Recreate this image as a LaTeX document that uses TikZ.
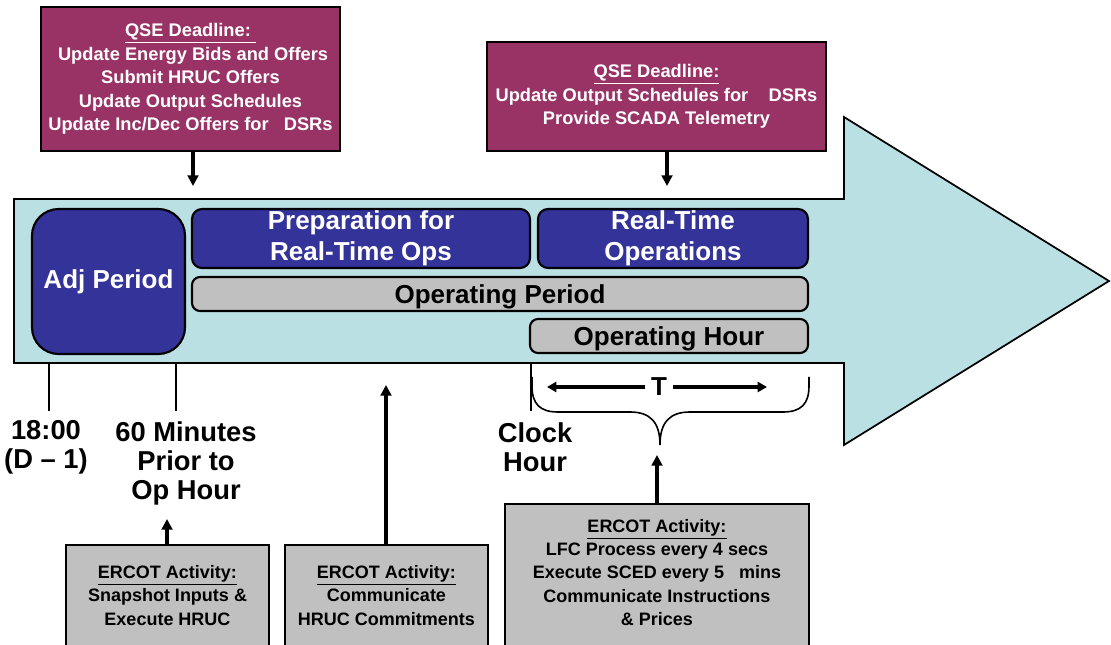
\documentclass[tikz,border=0pt]{standalone}
\usepackage{fontspec}
\setmainfont{Liberation Sans}
\usetikzlibrary{arrows.meta}
\definecolor{qsecol}{RGB}{153,51,102}
\definecolor{bluecol}{RGB}{51,51,153}
\definecolor{bodycol}{RGB}{187,224,227}
\definecolor{graycol}{RGB}{192,192,192}
\tikzset{
  qsebox/.style={draw=black, line width=1.6pt, fill=qsecol, text=white, align=center, inner sep=0pt, outer sep=0pt,
    font=\fontsize{13.7pt}{17.6pt}\selectfont\bfseries},
  bluebox/.style={draw=black, line width=1.6pt, fill=bluecol, text=white, align=center, inner sep=0pt, outer sep=0pt,
    font=\fontsize{19.5pt}{23pt}\selectfont\bfseries},
  graybar/.style={draw=black, line width=1.6pt, fill=graycol, text=black, align=center, inner sep=0pt, outer sep=0pt,
    rounded corners=6pt, text height=18pt, text depth=4pt, font=\fontsize{19.5pt}{23pt}\selectfont\bfseries},
  actbox/.style={draw=black, line width=1.6pt, fill=graycol, inner sep=0pt, outer sep=0pt},
  acttext/.style={align=center, inner sep=0pt, text=black, font=\fontsize{13.5pt}{17.4pt}\selectfont\bfseries},
  biglabel/.style={align=center, inner sep=0pt, text=black, font=\fontsize{20.5pt}{21.9pt}\selectfont\bfseries},
  arr/.style={line width=2.4pt, -{Triangle[length=8pt,width=8pt]}},
  tarr/.style={line width=2.4pt, -{Triangle[length=7pt,width=7.5pt]}},
  tick/.style={line width=1.2pt},
}
\begin{document}
\begin{tikzpicture}[x=0.75pt,y=-0.75pt]
\useasboundingbox (0,0) rectangle (1111,645);
\clip (0,0) rectangle (1111,645);

% big arrow body
\draw[line width=1.3pt, fill=bodycol, line join=miter]
  (14,199) -- (844,199) -- (844,117) -- (1109,281) -- (844,445) -- (844,363) -- (14,363) -- cycle;

% top deadline boxes
\node[qsebox, minimum width=224.25pt, minimum height=108pt] (qse1) at (190.5,79)
  {\underline{QSE Deadline:\ }\\
   \ Update Energy Bids and Offers\\
   Submit HRUC Offers\\
   Update Output Schedules\\
   Update Inc/Dec Offers for\ \ \ DSRs};
\node[qsebox, minimum width=254.25pt, minimum height=81.75pt] (qse2) at (656.5,96.5)
  {\underline{QSE Deadline:}\\
   Update Output Schedules for\ \ \ \ DSRs\\
   Provide SCADA Telemetry};

\coordinate (q1t) at (193,186);
\coordinate (q2t) at (667,186);
\draw[arr] (qse1.south -| q1t) -- (q1t);
\draw[arr] (qse2.south -| q2t) -- (q2t);

% period boxes
\node[bluebox, rounded corners=20pt, minimum width=114.75pt, minimum height=108.75pt] (adj) at (108.5,281.5) {Adj Period};
\node[bluebox, rounded corners=7.5pt, minimum width=253.5pt, minimum height=44.25pt] (prep) at (361,238.5) {Preparation for\\Real-Time Ops};
\node[bluebox, rounded corners=7.5pt, minimum width=202.5pt, minimum height=44.25pt] (rt) at (673,238.5) {Real-Time\\Operations};
\node[graybar, minimum width=462pt, minimum height=25.5pt] (opper) at (500,294) {Operating Period};
\node[graybar, minimum width=208.5pt, minimum height=25.5pt] (ophour) at (669,336) {Operating Hour};

% ticks
\draw[tick] (49,363) -- (49,411);
\draw[tick] (176,363) -- (176,411);
\draw[tick] (531,363) -- (531,411);

% labels
\node[biglabel] (l1) at (46,447) {18:00\\(D – 1)};
\node[biglabel] (l2) at (186,463.5) {60 Minutes\\Prior to\\Op Hour};
\node[biglabel] (l3) at (535,447.5) {Clock\\Hour};

% brace and T
\draw[line width=1.2pt]
  (532,377) -- (532,386) .. controls (532,404) and (540,412) .. (558,412) -- (630,412)
  .. controls (650,412) and (660,422) .. (660,445)
  .. controls (660,422) and (670,412) .. (690,412) -- (783,412)
  .. controls (801,412) and (809,404) .. (809,386) -- (809,377);
\node[font=\fontsize{19.5pt}{23pt}\selectfont\bfseries, inner sep=0pt] (T) at (659,387) {T};
\coordinate (tl) at (547,387);
\coordinate (tr) at (767,387);
\draw[tarr] ([xshift=-4pt]T.west) -- (tl);
\draw[tarr] ([xshift=4pt]T.east) -- (tr);

% ERCOT activity boxes
\node[actbox, minimum width=152.25pt, minimum height=86.25pt] (b1) at (167.5,602.5) {};
\node[actbox, minimum width=152.25pt, minimum height=86.25pt] (b2) at (386.5,602.5) {};
\node[actbox, minimum width=228pt, minimum height=117pt] (b3) at (657,582) {};
\node[acttext] (t1) at (167.5,595.5) {\underline{ERCOT Activity:}\\Snapshot Inputs \&\\Execute HRUC};
\node[acttext] (t2) at (386.5,595.5) {\underline{ERCOT Activity:}\\Communicate\\HRUC Commitments};
\node[acttext] (t3) at (657,572.5) {\underline{ERCOT Activity:}\\LFC Process every 4 secs\\Execute SCED every 5\ \ \ mins\\Communicate Instructions\\\& Prices};

\coordinate (b1t) at (167,519);
\coordinate (b2t) at (386,385);
\coordinate (b3t) at (657,455);
\draw[arr] (b1.north -| b1t) -- (b1t);
\draw[arr] (b2.north -| b2t) -- (b2t);
\draw[arr] (b3.north -| b3t) -- (b3t);
\end{tikzpicture}
\end{document}
